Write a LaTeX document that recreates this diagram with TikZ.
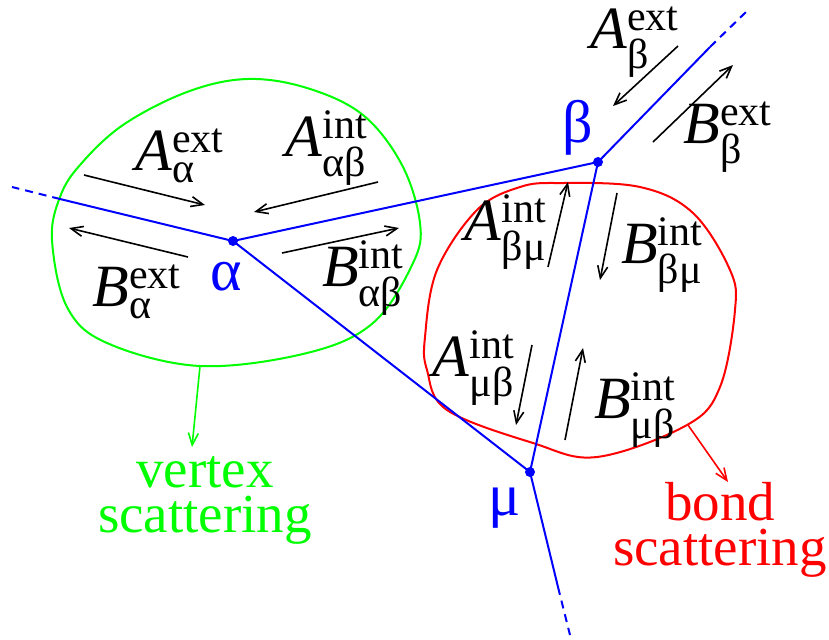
\documentclass[tikz,border=0pt]{standalone}
\usepackage{amsmath}
\usepackage{fontspec}
\setmainfont{LiberationSerif}[Extension=.ttf, UprightFont=*-Regular, ItalicFont=*-Italic,
  BoldFont=*-Bold, BoldItalicFont=*-BoldItalic]
\usetikzlibrary{arrows.meta}

\newcommand{\amp}[3]{\textit{#1}$^{\text{#2}}_{\text{#3}}$}

\begin{document}
\begin{tikzpicture}[x=0.5pt, y=-0.5pt,
  leg/.style={blue, line width=1pt},
  legdash/.style={blue, line width=1pt, dash pattern=on 4pt off 3pt},
  wave/.style={line width=0.8pt, -{Straight Barb[length=6pt,width=5pt]}},
  lab/.style={font=\fontsize{30}{36}\selectfont, inner sep=0pt},
  site/.style={blue, font=\fontsize{30}{36}\selectfont, inner sep=0pt},
  remark/.style={font=\fontsize{27.5}{22.5}\selectfont, align=center, inner sep=0pt}]
\useasboundingbox (0,0) rectangle (829,639);
% vertices
\coordinate (a) at (233,241);
\coordinate (b) at (598,162);
\coordinate (m) at (530,472);
\coordinate (aout) at (60,199);  \coordinate (aend) at (12,187);
\coordinate (bout) at (710,47);  \coordinate (bend) at (748,10);
\coordinate (mout) at (558,587); \coordinate (mend) at (570,635);
% scattering regions
\draw[green, line width=1pt] plot[smooth cycle, tension=0.6] coordinates {
  (52,240) (60,197) (80,165) (123,125) (187,92) (247,79) (307,88) (363,115)
  (402,165) (420,223) (413,263) (373,323) (307,353) (200,366) (107,343) (67,307)};
\draw[red, line width=1pt] plot[smooth cycle, tension=0.6] coordinates {
  (560,183) (640,187) (693,213) (730,270) (735,310) (720,387) (687,425) (597,457)
  (533,443) (447,410) (427,370) (425,337) (437,270) (477,210) (520,187)};
% graph
\draw[leg] (aout) -- (a) -- (b) -- (bout);
\draw[leg] (a) -- (m) -- (b);
\draw[leg] (m) -- (mout);
\draw[legdash] (aout) -- (aend);
\draw[legdash] (bout) -- (bend);
\draw[legdash] (mout) -- (mend);
\foreach \v in {a,b,m} \fill[blue] (\v) circle[radius=5];
% amplitudes
\foreach \sx/\sy/\ex/\ey in {84/175/205/205, 378/182/254/212, 188/257/69/228,
  282/253/399/228, 678/46/613/106, 653/142/733/65,
  548/267/568/182, 617/193/600/280, 532/345/516/425, 565/440/583/348}
  \draw[wave] (\sx,\sy) -- (\ex,\ey);
\node[lab] (Aae) at (180,156) {\amp{A}{ext}{α}};
\node[lab] (Aab) at (327,148) {\amp{A}{int}{αβ}};
\node[lab] (Bae) at (137,292) {\amp{B}{ext}{α}};
\node[lab] (Bab) at (363,278) {\amp{B}{int}{αβ}};
\node[lab] (Abe) at (635,42) {\amp{A}{ext}{β}};
\node[lab] (Bbe) at (728,137) {\amp{B}{ext}{β}};
\node[lab] (Abm) at (506,232) {\amp{A}{int}{βμ}};
\node[lab] (Bbm) at (662,255) {\amp{B}{int}{βμ}};
\node[lab] (Amb) at (474,368) {\amp{A}{int}{μβ}};
\node[lab] (Bmb) at (635,410) {\amp{B}{int}{μβ}};
\node[site] (la) at (226,277) {α};
\node[site] (lb) at (578,128) {β};
\node[site] (lm) at (505,508) {μ};
% remarks
\coordinate (gv) at (200,366); \coordinate (gt) at (192,447);
\coordinate (rb) at (688,425); \coordinate (rt) at (728,482);
\node[remark, green] (vs) at (205,500) {vertex\\scattering};
\node[remark, red] (bs) at (720,530) {bond\\scattering};
\draw[green, line width=0.8pt, -{Straight Barb[length=6pt,width=5pt]}] (gv) -- (gt);
\draw[red, line width=0.8pt, -{Straight Barb[length=6pt,width=5pt]}] (rb) -- (rt);
\end{tikzpicture}
\end{document}
